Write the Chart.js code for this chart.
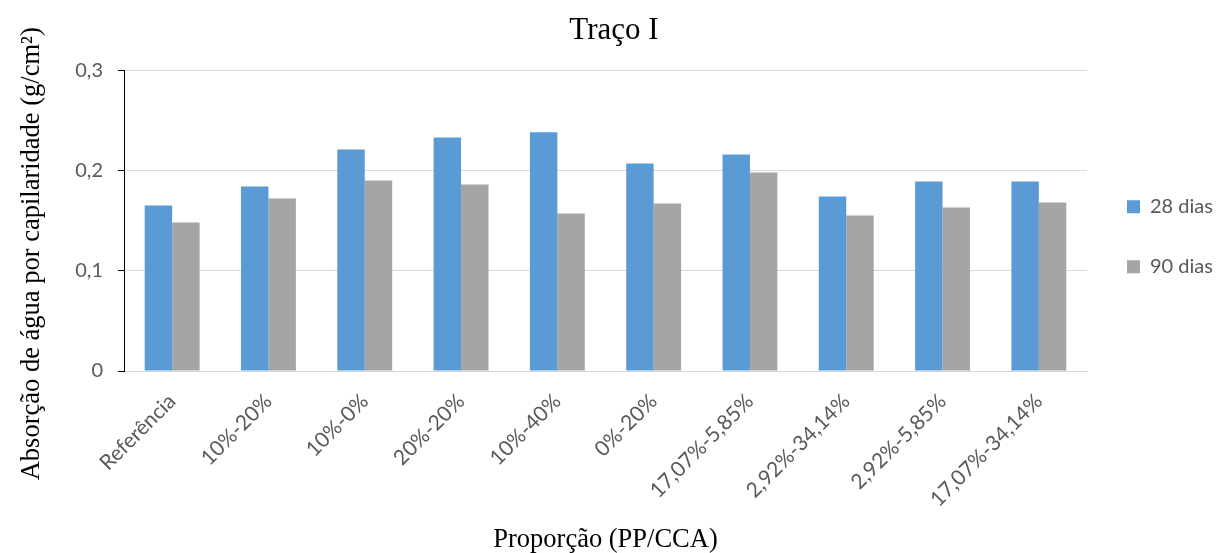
<!DOCTYPE html>
<html lang="pt">
<head>
    <meta charset="UTF-8">
    <title>Traço I</title>
    <style>
        body { margin: 0; background: #fff; }
        #chart { display: block; }
    </style>
    <script src="https://cdn.jsdelivr.net/npm/chart.js"></script>
</head>
<body>
    <canvas id="chart" width="1216" height="553"></canvas>
    <script>
        // Proporções PP/CCA ensaiadas
        const proporcoes = ['Referência', '10%-20%', '10%-0%', '20%-20%', '10%-40%', '0%-20%',
            '17,07%-5,85%', '2,92%-34,14%', '2,92%-5,85%', '17,07%-34,14%'];
        // Absorção de água por capilaridade (g/cm²)
        const dias28 = [0.165, 0.184, 0.221, 0.233, 0.238, 0.207, 0.216, 0.174, 0.189, 0.189];
        const dias90 = [0.148, 0.172, 0.190, 0.186, 0.157, 0.167, 0.198, 0.155, 0.163, 0.168];
        const yTicks = [0, 0.1, 0.2, 0.3];

        const sans = 'Lato, "Open Sans", sans-serif';
        const serif = '"Liberation Serif", "DejaVu Serif", serif';

        new Chart(document.getElementById('chart'), {
            type: 'bar',
            data: {
                labels: proporcoes,
                datasets: [
                    { label: '28 dias', data: dias28, backgroundColor: '#5B9BD5' },
                    { label: '90 dias', data: dias90, backgroundColor: '#A5A5A5' }
                ]
            },
            options: {
                responsive: false,
                animation: false,
                layout: { padding: { left: 12, right: 0, top: 0, bottom: 0 } },
                datasets: { bar: { categoryPercentage: 0.57, barPercentage: 1 } },
                plugins: {
                    title: {
                        display: true,
                        text: 'Traço I',
                        color: '#000',
                        font: { family: serif, size: 31, weight: 'normal' },
                        padding: { top: 12, bottom: 21 }
                    },
                    legend: {
                        position: 'right',
                        fullSize: false,
                        maxWidth: 129,
                        // empty title only pushes the two entries down a bit
                        title: { display: true, text: '', padding: { top: 18, bottom: 0 } },
                        labels: {
                            boxWidth: 13,
                            boxHeight: 13,
                            padding: 40,
                            color: '#595959',
                            font: { family: sans, size: 20 }
                        }
                    },
                    tooltip: { enabled: false }
                },
                scales: {
                    x: {
                        grid: { display: false },
                        border: { color: '#D9D9D9', width: 1 },
                        ticks: {
                            color: '#595959',
                            font: { family: sans, size: 21 },
                            minRotation: 45,
                            maxRotation: 45,
                            padding: 10
                        },
                        title: {
                            display: true,
                            text: 'Proporção (PP/CCA)',
                            color: '#000',
                            font: { family: serif, size: 26.5, lineHeight: 1 },
                            padding: { top: 0, bottom: 0 }
                        },
                        afterFit: scale => { scale.height = 553 - 371; }
                    },
                    y: {
                        min: 0,
                        max: 0.3,
                        afterBuildTicks: scale => {
                            scale.ticks = yTicks.map(v => ({ value: v }));
                        },
                        grid: {
                            color: '#D9D9D9',
                            tickColor: '#000',
                            tickLength: 6
                        },
                        border: { color: '#000', width: 1 },
                        ticks: {
                            color: '#595959',
                            font: { family: sans, size: 20 },
                            padding: 15,
                            callback: v => v === 0 ? '0' : v.toLocaleString('pt-BR', { minimumFractionDigits: 1 })
                        },
                        title: {
                            display: true,
                            // trailing spaces shift the centred title down the axis
                            text: 'Absorção de água por capilaridade (g/cm²)          ',
                            color: '#000',
                            font: { family: serif, size: 26.5 },
                            padding: { top: 4, bottom: 0 }
                        },
                        afterFit: scale => { scale.width = 124 - 12; }
                    }
                }
            }
        });
    </script>
</body>
</html>
